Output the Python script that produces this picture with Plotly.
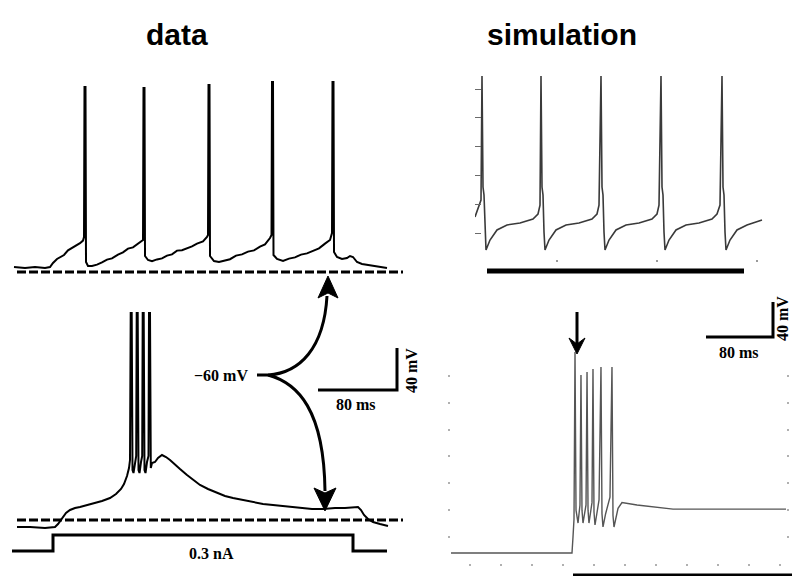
import plotly.graph_objects as go

W, H = 792, 576

# ---------------- data (ms, mV, nA) ----------------
REF_MV = -60  # dashed reference level (-60 mV)

# recorded trace, upper panel (tonic firing)
data_top = [
    (0, -57.5), (11, -58), (21, -57.5), (31, -58), (36, -57.5), (39, -55.5), (43, -53.5), (47, -52.3),
    (50, -51.5), (54, -49.2), (57, -48.3), (60, -47.3), (63, -46.8), (66, -45.6), (69, -44.3), (70, -42.5),
    (70.5, 32.5), (71.5, 32.5), (72, -55), (74, -57), (78, -57), (83, -56.3), (88, -55.2), (93, -53.8),
    (98, -53.2), (104, -51.3), (109, -50.2), (114, -48.3), (119, -47.7), (124, -45.8), (128, -44.6), (129, -44),
    (129.5, 32), (130.5, 32), (131, -52), (134, -54), (138, -54.6), (143, -53.7), (148, -53.2), (153, -51.8),
    (158, -51.2), (163, -49.3), (168, -49.1), (173, -48.2), (178, -47.2), (183, -45.8), (189, -44.7), (193, -42.5),
    (194, -41.5), (194.5, 33.5), (195.5, 33.5), (196, -52), (200, -54.5), (205, -55), (210, -54.3), (216, -53.6),
    (222, -51.8), (228, -51.2), (234, -49.8), (240, -49.2), (246, -47.3), (251, -46.2), (256, -43), (257.5, -41.5),
    (258, 35), (259, 35), (259.5, -51.5), (263, -53.5), (269, -54.5), (275, -53.3), (281, -52.7), (287, -51.3),
    (293, -50.7), (299, -49.3), (305, -48.2), (311, -45.8), (316, -44), (318, -40.5), (318.5, 35), (319.5, 35),
    (320, -50), (323, -52.5), (328, -53.5), (333, -53), (336, -52), (339, -52.5), (343, -55), (348, -56),
    (354, -56.5), (361, -57.2), (367, -57.5), (373, -58),
]

# recorded trace, lower panel (burst with 0.3 nA step)
data_bot = [
    (5, -63.5), (18, -63.5), (33, -64), (43, -63.5), (46, -62), (50, -59), (54, -56.5), (58, -55),
    (63, -54), (68, -53.5), (76, -52.5), (83, -51.5), (90, -50.5), (98, -49), (104, -47), (109, -44.5),
    (112, -42), (115, -38), (117, -34), (118, -30),
    (118.7, 43.5), (119.7, 43.5), (120.5, -35), (121.5, -36.5), (123, -31), (124.2, -28),
    (124.7, 43.5), (125.7, 43.5), (126.5, -35), (127.5, -36.5), (129, -31), (130.2, -28),
    (130.7, 43.5), (131.7, 43.5), (132.5, -35), (133.5, -36.5), (135, -31), (136.5, -28),
    (137, 43.5), (138, 43.5), (138.8, -34), (140, -31.5), (143, -31), (146, -29), (150, -27.5),
    (154, -28.5), (158, -30), (161, -31.5), (168, -34.5), (175, -37.5), (181, -40), (188, -42.5),
    (196, -44.5), (205, -46.5), (213, -48), (221, -49), (231, -50), (241, -51), (251, -52),
    (261, -52.5), (273, -53), (288, -54), (300, -54.5), (311, -54.5), (323, -54), (333, -54),
    (346, -53.5), (349, -55), (352, -57.5), (356, -59.5), (361, -61), (368, -62), (376, -63),
]

ref_top_t = [3, 389]
ref_bot_t = [5, 391]

# injected current step
stim_t = [0, 41, 41, 341, 341, 375]
stim_nA = [0, 0, 0.3, 0.3, 0, 0]

# simulated trace, upper panel
sim_top = [
    (18, -48.9), (21, -42.6), (24, -37.1), (25, 49.0), (26, -28.1), (27, -33.6), (28, -59.3), (29, -71.8),
    (33, -64.9), (40, -57.9), (50, -54.4), (63, -53.1), (76, -50.3), (81, -46.8), (83, -40.6),
    (84, 49.0), (85, -28.1), (86, -33.6), (87, -59.3), (88, -71.8), (92, -64.9), (99, -57.9), (109, -54.4),
    (122, -53.1), (135, -50.3), (140, -46.8), (142, -40.6),
    (144, 49.0), (145, -28.1), (146, -33.6), (147, -59.3), (148, -71.8), (152, -64.9), (159, -57.9),
    (169, -54.4), (182, -53.1), (195, -50.3), (200, -46.8), (202, -40.6),
    (204, 49.0), (205, -28.1), (206, -33.6), (207, -59.3), (208, -71.8), (212, -64.9), (219, -57.9),
    (229, -54.4), (242, -53.1), (255, -50.3), (260, -46.8), (263, -40.6),
    (265, 49.0), (266, -28.1), (267, -33.6), (268, -59.3), (269, -71.8), (273, -64.9), (280, -57.9),
    (290, -54.4), (305, -51.0),
]

# simulated trace, lower panel
sim_bot = [
    (15.5, -68.9), (171.6, -68.9), (172.9, -60), (174.2, -50), (175.5, 43.4), (176.8, -45), (179.4, -52.2),
    (181.9, -42.1), (183.2, 30.5), (184.5, -45), (185.8, -52.2), (189.7, -42.1), (191.0, 32.2), (192.3, -45),
    (193.5, -52.2), (197.4, -40.8), (198.7, 33.9), (200.0, -46), (201.3, -53.3), (206.5, -39.3), (209.0, 35.0),
    (210.3, -47), (211.6, -54.4), (215, -47), (220.6, -37.7), (223.2, 35.0), (224.5, -48), (225.8, -54.4),
    (231.0, -44), (236.1, -40.8), (255.5, -42.1), (289.0, -43.8), (302.0, -44.4), (449.0, -44.4),
]

sim_top_yticks = [-60, -40, -20, 0, 20, 40]
sim_top_xticks = [100, 200, 300]
sim_bot_yticks = [-60, -45, -30, -15, 0, 15, 30]
sim_bot_xticks = [40, 80, 120, 160, 200, 240, 280, 320, 360, 400, 440]

# ---------------- layout helpers ----------------
def px(x, y):
    return x / W, 1 - y / H


def panel(x0, x1, ytop, ybot, t_at_x0, px_per_t, v_ref, y_ref, px_per_v):
    xdom = [x0 / W, x1 / W]
    xr = [t_at_x0, t_at_x0 + (x1 - x0) / px_per_t]
    ydom = [1 - ybot / H, 1 - ytop / H]
    yr = [v_ref - (ybot - y_ref) / px_per_v, v_ref + (y_ref - ytop) / px_per_v]
    return xdom, xr, ydom, yr


def hidden(dom, rng, **kw):
    d = dict(domain=dom, range=rng, showgrid=False, zeroline=False, showline=False,
             showticklabels=False, ticks="", fixedrange=True)
    d.update(kw)
    return d


A = panel(10, 410, 70, 285, -4, 1.0, -60, 272, 2.0)
B = panel(10, 410, 300, 530, -2, 1.0, -60, 520, 2.0)
C = panel(10, 410, 530, 562, -2, 1.0, 0.0, 551, 16 / 0.3)
D = panel(475, 770, 70, 259, 18, 1.0, -60, 233, 1.44)
E = panel(451, 786, 340, 563, (451 - 439) / 0.775, 0.775, -60, 537, 1.79)

fig = go.Figure()

def unz(pairs):
    return [p[0] for p in pairs], [p[1] for p in pairs]

t, v = unz(data_top)
fig.add_trace(go.Scatter(x=t, y=v, mode="lines", line=dict(color="black", width=2), xaxis="x", yaxis="y"))
fig.add_trace(go.Scatter(x=ref_top_t, y=[REF_MV, REF_MV], mode="lines",
                         line=dict(color="black", width=3, dash="9px,3px"), xaxis="x", yaxis="y"))

t, v = unz(data_bot)
fig.add_trace(go.Scatter(x=t, y=v, mode="lines", line=dict(color="black", width=2), xaxis="x2", yaxis="y2"))
fig.add_trace(go.Scatter(x=ref_bot_t, y=[REF_MV, REF_MV], mode="lines",
                         line=dict(color="black", width=3, dash="9px,3px"), xaxis="x2", yaxis="y2"))

fig.add_trace(go.Scatter(x=stim_t, y=stim_nA, mode="lines", line=dict(color="black", width=3),
                         xaxis="x5", yaxis="y5"))

t, v = unz(sim_top)
fig.add_trace(go.Scatter(x=t, y=v, mode="lines", line=dict(color="#3a3a3a", width=1.6), xaxis="x3", yaxis="y3"))

t, v = unz(sim_bot)
fig.add_trace(go.Scatter(x=t, y=v, mode="lines", line=dict(color="#555555", width=1.4), xaxis="x4", yaxis="y4"))

fig.update_layout(
    width=W, height=H, margin=dict(l=0, r=0, t=0, b=0),
    paper_bgcolor="white", plot_bgcolor="white", showlegend=False,
    xaxis=hidden(A[0], A[1], anchor="y"),
    yaxis=hidden(A[2], A[3], anchor="x"),
    xaxis2=hidden(B[0], B[1], anchor="y2"),
    yaxis2=hidden(B[2], B[3], anchor="x2"),
    xaxis5=hidden(C[0], C[1], anchor="y5"),
    yaxis5=hidden(C[2], C[3], anchor="x5"),
    xaxis3=hidden(D[0], D[1], anchor="y3", ticks="outside", ticklen=2, tickwidth=2,
                  tickcolor="#9a9a9a", tickvals=sim_top_xticks),
    yaxis3=hidden(D[2], D[3], anchor="x3", ticks="inside", ticklen=6, tickwidth=1,
                  tickcolor="#6a6a6a", tickvals=sim_top_yticks),
    xaxis4=hidden(E[0], E[1], anchor="y4", ticks="outside", ticklen=2, tickwidth=2,
                  tickcolor="#b0b0b0", tickvals=sim_bot_xticks),
    yaxis4=hidden(E[2], E[3], anchor="x4", ticks="outside", ticklen=2, tickwidth=2,
                  tickcolor="#b0b0b0", tickvals=sim_bot_yticks, mirror="ticks"),
)

# ---------------- decorations (scale bars, arrows, stimulus bars) ----------------
def P(x, y):
    a, b = px(x, y)
    return f"{a:.5f},{b:.5f}"

shapes = []
def path(d, width=3, fill=None):
    shapes.append(dict(type="path", xref="paper", yref="paper", path=d,
                       line=dict(color="black", width=width),
                       fillcolor=fill if fill else "rgba(0,0,0,0)"))

def seg(x0, y0, x1, y1, width):
    a0, b0 = px(x0, y0)
    a1, b1 = px(x1, y1)
    shapes.append(dict(type="line", xref="paper", yref="paper", x0=a0, y0=b0, x1=a1, y1=b1,
                       line=dict(color="black", width=width)))

# scale bars
path(f"M{P(397,348)} L{P(397,390)} L{P(318,390)}")
path(f"M{P(773,302)} L{P(773,337)} L{P(706,337)}")
# stimulus bars (simulation)
seg(487, 271, 744, 271, 5)
seg(573, 575, 795, 575, 3)
# simulation arrow
seg(577, 312, 577, 346, 3)
path(f"M{P(577,354)} L{P(569,338)} L{P(577,344)} L{P(585,338)} Z", width=1, fill="black")
# curved arrows from -60 mV label
path(f"M{P(257,375)} L{P(268,375)} C{P(300,373)} {P(324,348)} {P(327,296)}")
path(f"M{P(268,375)} C{P(298,383)} {P(324,410)} {P(325,491)}")
path(f"M{P(328,276)} L{P(318,298)} L{P(328,293)} L{P(338,298)} Z", width=1, fill="black")
path(f"M{P(325,511)} L{P(314,488)} L{P(325,493)} L{P(336,488)} Z", width=1, fill="black")

fig.update_layout(shapes=shapes)

# ---------------- text ----------------
def label(text, x, y, size=16, family="Liberation Serif", bold=True, angle=0):
    a, b = px(x, y)
    fig.add_annotation(x=a, y=b, xref="paper", yref="paper", text=f"<b>{text}</b>" if bold else text,
                       showarrow=False, xanchor="center", yanchor="middle", textangle=angle,
                       font=dict(family=family, size=size, color="black"))

label("data", 177, 34, size=30, family="Liberation Sans")
label("simulation", 562, 34, size=30, family="Liberation Sans")
label("−60 mV", 221, 375)
label("80 ms", 356, 404)
label("40 mV", 411, 371, angle=-90)
label("0.3 nA", 211, 553)
label("80 ms", 739, 352)
label("40 mV", 782, 319, angle=-90)

fig.write_html("out.html")
